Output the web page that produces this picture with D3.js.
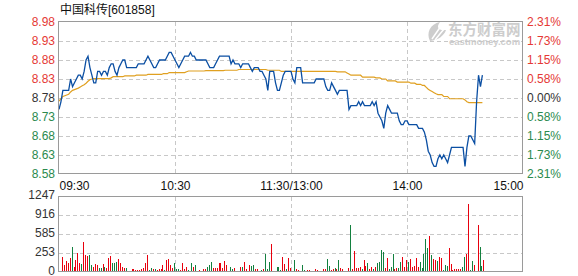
<!DOCTYPE html>
<html>
<head>
<meta charset="utf-8">
<script src="https://cdn.jsdelivr.net/npm/d3@7"></script>
<style>
body { margin: 0; background: #fff; }
.js-vis { width: 578px; height: 276px; }
text { font-family: "Liberation Sans", Arial, "Noto Sans CJK SC", sans-serif; font-size: 12px; }
</style>
</head>
<body>
<div class="js-vis"></div>
<script>
"use strict";

var title = "中国科传[601858]";
var prevClose = 8.78;
var priceTicks = [8.98, 8.93, 8.88, 8.83, 8.78, 8.73, 8.68, 8.63, 8.58];
var pctLabels = ["2.31%", "1.73%", "1.15%", "0.58%", "0.00%", "0.58%", "1.15%", "1.73%", "2.31%"];
var timeMinutes = [0, 60, 120, 180, 240];
var timeLabels = ["09:30", "10:30", "11:30/13:00", "14:00", "15:00"];
var volTicks = ["1247", "916", "585", "253", "0"];
var volMax = 1247;

// one value per minute from 09:30
var price = [
  8.75, 8.77, 8.80, 8.80, 8.80, 8.80, 8.83, 8.81, 8.82, 8.83,
  8.84, 8.84, 8.83, 8.85, 8.88, 8.89, 8.86, 8.84, 8.82, 8.82,
  8.85, 8.85, 8.84, 8.85, 8.85, 8.84, 8.86, 8.87, 8.87, 8.85,
  8.84, 8.86, 8.87, 8.88, 8.88, 8.86, 8.86, 8.86, 8.86, 8.86,
  8.86, 8.87, 8.87, 8.87, 8.87, 8.88, 8.89, 8.88, 8.87, 8.86,
  8.86, 8.87, 8.88, 8.88, 8.88, 8.88, 8.89, 8.90, 8.90, 8.89,
  8.88, 8.87, 8.86, 8.87, 8.88, 8.89, 8.89, 8.89, 8.90, 8.89,
  8.89, 8.88, 8.88, 8.88, 8.88, 8.88, 8.88, 8.87, 8.86, 8.86,
  8.86, 8.87, 8.88, 8.89, 8.89, 8.89, 8.89, 8.89, 8.89, 8.87,
  8.88, 8.87, 8.87, 8.87, 8.86, 8.87, 8.87, 8.87, 8.87, 8.86,
  8.85, 8.86, 8.86, 8.86, 8.85, 8.85, 8.84, 8.83, 8.80, 8.85,
  8.85, 8.85, 8.82, 8.80, 8.80, 8.82, 8.84, 8.85, 8.85, 8.85,
  8.85, 8.83, 8.82, 8.86, 8.86, 8.86, 8.82, 8.82, 8.82, 8.82,
  8.82, 8.82, 8.82, 8.83, 8.83, 8.83, 8.83, 8.83, 8.81, 8.80,
  8.80, 8.82, 8.81, 8.80, 8.79, 8.80, 8.80, 8.80, 8.80, 8.80,
  8.75, 8.76, 8.76, 8.76, 8.76, 8.77, 8.76, 8.77, 8.76, 8.76,
  8.76, 8.76, 8.77, 8.76, 8.77, 8.74, 8.73, 8.72, 8.70, 8.74,
  8.76, 8.75, 8.74, 8.74, 8.74, 8.74, 8.72, 8.71, 8.71, 8.72,
  8.72, 8.71, 8.71, 8.71, 8.71, 8.71, 8.70, 8.70, 8.70, 8.69,
  8.67, 8.64, 8.63, 8.61, 8.60, 8.60, 8.62, 8.63, 8.62, 8.63,
  8.62, 8.61, 8.63, 8.65, 8.65, 8.65, 8.65, 8.65, 8.65, 8.65,
  8.60, 8.65, 8.68, 8.68, 8.67, 8.66, 8.77, 8.84, 8.81, 8.84
];

var avgPrice = [
  8.772, 8.778, 8.784, 8.786, 8.788, 8.790, 8.796, 8.800, 8.802, 8.804,
  8.806, 8.809, 8.812, 8.815, 8.819, 8.824, 8.828, 8.830, 8.831, 8.831,
  8.831, 8.831, 8.831, 8.831, 8.831, 8.831, 8.831, 8.833, 8.836, 8.836,
  8.836, 8.836, 8.836, 8.836, 8.838, 8.838, 8.838, 8.838, 8.838, 8.838,
  8.840, 8.840, 8.840, 8.840, 8.840, 8.840, 8.842, 8.842, 8.842, 8.842,
  8.842, 8.842, 8.842, 8.842, 8.844, 8.844, 8.844, 8.847, 8.847, 8.847,
  8.847, 8.847, 8.847, 8.847, 8.847, 8.847, 8.849, 8.851, 8.851, 8.851,
  8.851, 8.851, 8.851, 8.851, 8.851, 8.851, 8.852, 8.852, 8.852, 8.852,
  8.852, 8.852, 8.852, 8.852, 8.852, 8.852, 8.853, 8.853, 8.853, 8.853,
  8.853, 8.853, 8.853, 8.855, 8.855, 8.855, 8.855, 8.855, 8.855, 8.855,
  8.855, 8.855, 8.855, 8.855, 8.855, 8.855, 8.855, 8.855, 8.853, 8.853,
  8.853, 8.853, 8.853, 8.853, 8.853, 8.850, 8.850, 8.850, 8.850, 8.850,
  8.850, 8.850, 8.850, 8.850, 8.850, 8.850, 8.850, 8.850, 8.850, 8.850,
  8.850, 8.850, 8.850, 8.850, 8.850, 8.850, 8.850, 8.850, 8.850, 8.850,
  8.850, 8.850, 8.850, 8.850, 8.849, 8.849, 8.849, 8.849, 8.849, 8.846,
  8.843, 8.840, 8.840, 8.840, 8.840, 8.840, 8.840, 8.835, 8.835, 8.835,
  8.835, 8.835, 8.835, 8.835, 8.833, 8.833, 8.833, 8.830, 8.830, 8.830,
  8.825, 8.825, 8.825, 8.825, 8.825, 8.822, 8.822, 8.822, 8.822, 8.822,
  8.822, 8.822, 8.819, 8.819, 8.819, 8.816, 8.816, 8.816, 8.813, 8.813,
  8.808, 8.803, 8.800, 8.797, 8.794, 8.791, 8.789, 8.789, 8.789, 8.784,
  8.784, 8.784, 8.778, 8.778, 8.778, 8.778, 8.778, 8.778, 8.778, 8.778,
  8.775, 8.770, 8.768, 8.768, 8.768, 8.768, 8.768, 8.768, 8.768, 8.768
];

var volume = [
  0, 233, 100, 166, 139, 216, 399, 61, 183, 299,
  133, 122, 488, 266, 244, 260, 94, 61, 116, 105,
  50, 50, 116, 72, 50, 216, 249, 128, 139, 150,
  199, 133, 66, 55, 44, 0, 0, 39, 39, 17,
  17, 17, 28, 44, 139, 266, 17, 50, 33, 28,
  22, 28, 28, 100, 22, 183, 199, 94, 55, 139,
  39, 39, 17, 133, 39, 72, 22, 0, 133, 61,
  94, 0, 17, 0, 33, 28, 61, 100, 150, 50,
  50, 50, 133, 133, 50, 166, 94, 0, 66, 39,
  50, 0, 0, 66, 61, 150, 39, 0, 100, 83,
  94, 39, 39, 0, 22, 39, 283, 39, 150, 449,
  0, 0, 66, 66, 17, 227, 122, 39, 216, 55,
  0, 183, 28, 17, 0, 100, 17, 0, 22, 22,
  0, 0, 33, 22, 0, 0, 33, 33, 199, 83,
  22, 28, 50, 28, 183, 50, 33, 0, 0, 50,
  765, 28, 332, 50, 50, 66, 39, 183, 83, 139,
  28, 66, 28, 61, 139, 155, 349, 321, 55, 216,
  28, 61, 288, 28, 55, 55, 155, 233, 66, 183,
  155, 205, 72, 83, 216, 61, 155, 50, 288, 532,
  388, 582, 260, 199, 183, 161, 238, 211, 17, 100,
  83, 382, 116, 17, 39, 39, 39, 39, 61, 227,
  283, 1108, 17, 172, 100, 0, 765, 404, 83, 183
];

// u = up minute, d = down minute
var volDir = (
  "-uuuuuduuu" + "uduuudduuu" + "dduduuuddd" + "uuuud--uuu" +
  "uuuuuuddud" + "uuuuduuuud" + "dduuuud-du" + "d-u-uudddu" +
  "uuuuuuu-dd" + "u--uduu-ud" + "duu-dudddu" + "--ddduuduu" +
  "-duu-dd-uu" + "--uu--uudd" + "uududuu--u" + "duuuuuduud" +
  "uududddduu" + "ddduudduuu" + "duuuuudddd" + "duduuduudd" +
  "duuuuuuudd" + "uuddu-uddu"
).split("");

var red = "#e53935", green = "#2b8a4e", grey = "#333";
var gridColor = "#c8c8c8", borderColor = "#9a9a9a";

var svg = d3.select(".js-vis").append("svg")
  .attr("width", 578)
  .attr("height", 276);

var x = d3.scaleLinear().domain([0, 240]).range([59, 523]);
var y = d3.scaleLinear().domain([8.58, 8.98]).range([174, 22]);
var vy = d3.scaleLinear().domain([0, volMax]).range([271, 196]);
var vt = d3.scalePoint().domain(volTicks).range([196, 272]);

function labelColor(v) {
  if (Math.abs(v - prevClose) < 1e-6) return grey;
  return v > prevClose ? red : green;
}

// title
svg.append("text")
  .attr("x", 60)
  .attr("y", 14)
  .attr("fill", "#111")
  .text(title);

// watermark
var wm = svg.append("g").attr("fill", "#cdcdcd");
wm.append("path")
  .attr("d", "M430,41 C426,33 430,24 440,22 C436,27 438,31 446,30 C444,36 438,40 430,41 Z");
wm.append("path")
  .attr("d", "M432,39 L441,26 M435,40 L444,29")
  .attr("stroke", "#fff")
  .attr("stroke-width", 1.5);
wm.append("text")
  .attr("x", 448)
  .attr("y", 35)
  .style("font-size", "14.5px")
  .style("font-weight", "bold")
  .text("东方财富网");
wm.append("text")
  .attr("x", 449)
  .attr("y", 45)
  .style("font-size", "9.5px")
  .style("font-weight", "bold")
  .text("eastmoney.com");

// grids
var grid = svg.append("g")
  .attr("stroke", gridColor)
  .attr("stroke-dasharray", "4,3")
  .attr("shape-rendering", "crispEdges");

grid.selectAll(".hp").data(priceTicks.slice(1, -1)).enter().append("line")
  .attr("x1", 59).attr("x2", 522)
  .attr("y1", function (d) { return Math.round(y(d)) + 0.5; })
  .attr("y2", function (d) { return Math.round(y(d)) + 0.5; });

grid.selectAll(".hv").data(volTicks.slice(1, -1)).enter().append("line")
  .attr("x1", 59).attr("x2", 522)
  .attr("y1", function (d) { return Math.round(vt(d)) + 0.5; })
  .attr("y2", function (d) { return Math.round(vt(d)) + 0.5; });

grid.selectAll(".vp").data(timeMinutes.slice(1, -1)).enter().append("line")
  .attr("x1", function (d) { return Math.round(x(d)) + 0.5; })
  .attr("x2", function (d) { return Math.round(x(d)) + 0.5; })
  .attr("y1", 22).attr("y2", 173);

grid.selectAll(".vv").data(timeMinutes.slice(1, -1)).enter().append("line")
  .attr("x1", function (d) { return Math.round(x(d)) + 0.5; })
  .attr("x2", function (d) { return Math.round(x(d)) + 0.5; })
  .attr("y1", 197).attr("y2", 271);

// volume bars
svg.append("g").attr("shape-rendering", "crispEdges")
  .selectAll("rect").data(volume).enter().append("rect")
  .attr("x", function (d, i) { return Math.round(x(i)) + 1; })
  .attr("width", 1)
  .attr("y", function (d) { return vy(d); })
  .attr("height", function (d) { return vy(0) - vy(d); })
  .attr("fill", function (d, i) { return volDir[i] === "d" ? "#13803f" : "#e8000d"; });

// price and average lines
var line = d3.line()
  .x(function (d, i) { return x(i); })
  .y(function (d) { return y(d); });

svg.append("path")
  .datum(avgPrice)
  .attr("fill", "none")
  .attr("stroke", "#e0a020")
  .attr("stroke-width", 1.2)
  .attr("d", line);

svg.append("path")
  .datum(price)
  .attr("fill", "none")
  .attr("stroke", "#0b4fa3")
  .attr("stroke-width", 1.3)
  .attr("d", line);

// frames
svg.append("rect")
  .attr("x", 58.5).attr("y", 21.5).attr("width", 464).attr("height", 152)
  .attr("fill", "none").attr("stroke", borderColor);
svg.append("rect")
  .attr("x", 58.5).attr("y", 196.5).attr("width", 464).attr("height", 75)
  .attr("fill", "none").attr("stroke", borderColor);

// price axis (left)
var yax = d3.axisLeft(y).tickValues(priceTicks).tickSize(0).tickPadding(3)
  .tickFormat(d3.format(".2f"));
var gl = svg.append("g").attr("transform", "translate(58,0)").call(yax);
gl.select(".domain").remove();
gl.selectAll("text")
  .attr("font-family", null).attr("font-size", null)
  .attr("fill", function (d) { return labelColor(d); });

// percent axis (right)
var pax = d3.axisRight(y).tickValues(priceTicks).tickSize(0).tickPadding(4)
  .tickFormat(function (d, i) { return pctLabels[i]; });
var gr = svg.append("g").attr("transform", "translate(523,0)").call(pax);
gr.select(".domain").remove();
gr.selectAll("text")
  .attr("font-family", null).attr("font-size", null)
  .attr("fill", function (d) { return labelColor(d); });

// time axis
var xax = d3.axisBottom(x).tickValues(timeMinutes).tickSize(0).tickPadding(0)
  .tickFormat(function (d, i) { return timeLabels[i]; });
var gx = svg.append("g").attr("transform", "translate(0,181)").call(xax);
gx.select(".domain").remove();
gx.selectAll("text")
  .attr("font-family", null).attr("font-size", null)
  .attr("fill", "#111")
  .attr("text-anchor", function (d, i) {
    return i === 0 ? "start" : (i === timeMinutes.length - 1 ? "end" : "middle");
  });

// volume axis
var vax = d3.axisLeft(vt).tickSize(0).tickPadding(3);
var gv = svg.append("g").attr("transform", "translate(58,-1)").call(vax);
gv.select(".domain").remove();
gv.selectAll("text")
  .attr("font-family", null).attr("font-size", null)
  .attr("fill", grey);
</script>
</body>
</html>
